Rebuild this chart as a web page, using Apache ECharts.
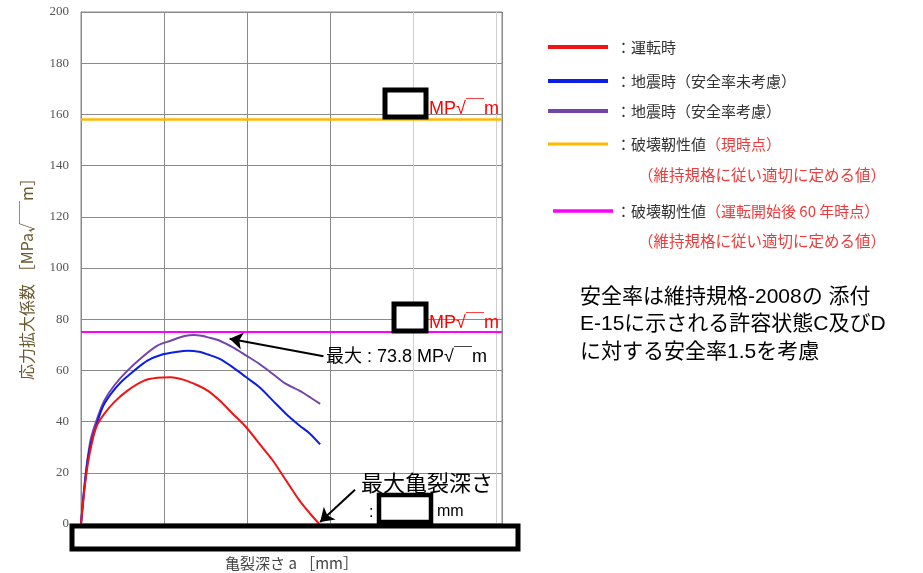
<!DOCTYPE html>
<html>
<head>
<meta charset="utf-8">
<script src="https://cdn.jsdelivr.net/npm/echarts/dist/echarts.min.js"></script>
<style>
html,body{margin:0;padding:0;background:#fff;}
#main{width:923px;height:573px;}
</style>
</head>
<body>
<div id="main"></div>
<script>
// 亀裂深さ a [mm] と 応力拡大係数
var opX = [0, 0.4, 0.8, 1.2, 1.6, 2.0, 2.8, 4.0, 5.6, 7.6, 9.2, 10.8, 12.4, 14.1, 15.3, 16.7, 18.3, 19.9, 21.5, 23.1, 24.7, 26.3, 27.6, 28.7];
var opY = [0, 13, 23, 30, 35.5, 39, 43, 47.6, 52.1, 56, 57.1, 57.3, 56.3, 54.1, 52, 48.2, 43, 37.8, 31.3, 24.8, 17, 9.2, 4, 0];

var eqX = [0, 0.4, 0.8, 1.2, 1.8, 2.6, 3.6, 4.8, 6.4, 8.0, 9.6, 11.3, 12.9, 14.2, 15.3, 16.7, 18.3, 19.9, 21.5, 23.1, 24.7, 26.3, 27.6, 28.8];
var eqY = [0, 14, 25, 31.5, 38, 45.6, 50.8, 55.4, 59.9, 63.8, 66, 67.1, 67.7, 67.3, 66.2, 64.5, 61.2, 57.3, 53.4, 48.2, 43, 38.5, 35.2, 31.1];

var eqSfX = [0, 0.4, 0.8, 1.2, 2.0, 2.8, 4.0, 5.6, 7.6, 9.2, 10.8, 12.5, 13.6, 14.5, 15.3, 16.7, 18.3, 19.9, 21.5, 23.1, 24.7, 26.3, 27.6, 28.8];
var eqSfY = [0, 14.5, 25.5, 33.5, 41.7, 48.2, 54.1, 59.9, 65.8, 69.7, 71.6, 73.4, 73.8, 73.5, 72.9, 71.6, 69, 65.8, 62.5, 58.6, 54.7, 52.1, 49.5, 46.9];

var toughNow = 158;     // 破壊靭性値（現時点）
var tough60 = 75;       // 破壊靭性値（運転開始後60年時点）
var xRange = [0, 50.7];

var seriesNames = ['運転時', '地震時（安全率未考慮）', '地震時（安全率考慮）', '破壊靭性値（現時点）', '破壊靭性値（運転開始後60年時点）'];
var seriesColors = ['#f01414', '#0a1ee6', '#7444ac', '#ffb800', '#ff00ff'];

var legendMain = ['：運転時', '：地震時（安全率未考慮）', '：地震時（安全率考慮）', '：破壊靭性値{r|（現時点）}', '：破壊靭性値{r|（運転開始後 60 年時点）}'];
var legendSub = '（維持規格に従い適切に定める値）';
var noteLines = ['安全率は維持規格-2008の 添付', 'E-15に示される許容状態C及びD', 'に対する安全率1.5を考慮'];
var maxLabel = '最大 : 73.8 MP√￣m';
var unitLabel = 'MP√￣m';

function pairs(xs, ys) {
	var out = [];
	for (var i = 0; i < xs.length; i++) out.push([xs[i], ys[i]]);
	return out;
}

var font = "'Liberation Sans','Noto Sans CJK JP',sans-serif";
var jp = "'Noto Sans CJK JP',sans-serif";

var myChart = echarts.init(document.getElementById('main'));

// 凡例（手書き）
var legendY = [47, 81, 111, 144, 211];
var legendW = [4, 4, 4, 3, 3.5];
var graphics = [];
for (var i = 0; i < legendMain.length; i++) {
	var lx = i == 4 ? 553 : 548;
	graphics.push({
		type: 'line', shape: {x1: lx, y1: legendY[i], x2: lx + 60, y2: legendY[i]},
		style: {stroke: seriesColors[i], lineWidth: legendW[i]}
	});
	graphics.push({
		type: 'text', x: 616, y: legendY[i],
		style: {text: legendMain[i], font: '15px ' + jp, fill: '#333', verticalAlign: 'middle',
			rich: {r: {fill: '#ee3a3a', font: '15px ' + jp}}}
	});
}
graphics.push({type: 'text', x: 638, y: 175, style: {text: legendSub, font: '15.5px ' + jp, fill: '#ee3a3a', verticalAlign: 'middle'}});
graphics.push({type: 'text', x: 638, y: 241, style: {text: legendSub, font: '15.5px ' + jp, fill: '#ee3a3a', verticalAlign: 'middle'}});

// 注記
for (var j = 0; j < noteLines.length; j++) {
	graphics.push({type: 'text', x: 580, y: 297 + j * 27.5,
		style: {text: noteLines[j], font: '21px ' + font, fill: '#000', verticalAlign: 'middle'}});
}

// 黒枠（マスキング）
function box(x, y, w, h, lw) {
	return {type: 'rect', shape: {x: x, y: y, width: w, height: h},
		style: {fill: '#fff', stroke: '#000', lineWidth: lw}, z: 100};
}
graphics.push(box(72, 526, 446, 23, 5));
graphics.push(box(379, 495, 52, 27, 4.5));
graphics.push(box(385, 90, 41, 27, 5));
graphics.push(box(394, 304, 32, 27, 5));

graphics.push({type: 'text', x: 429, y: 109, z: 100, style: {text: unitLabel, font: '18px ' + font, fill: '#ff0000', verticalAlign: 'middle'}});
graphics.push({type: 'text', x: 429, y: 323, z: 100, style: {text: unitLabel, font: '18px ' + font, fill: '#ff0000', verticalAlign: 'middle'}});
graphics.push({type: 'text', x: 326, y: 357, z: 100, style: {text: maxLabel, font: '18px ' + font, fill: '#000', verticalAlign: 'middle'}});
graphics.push({type: 'text', x: 361, y: 485, z: 100, style: {text: '最大亀裂深さ', font: '22px ' + font, fill: '#000', verticalAlign: 'middle'}});
graphics.push({type: 'text', x: 369, y: 513, z: 100, style: {text: ':', font: '16px ' + font, fill: '#000', verticalAlign: 'middle'}});
graphics.push({type: 'text', x: 437, y: 512, z: 100, style: {text: 'mm', font: '16px ' + font, fill: '#000', verticalAlign: 'middle'}});

var lineColors = ['#8a8a8a', '#8a8a8a', '#8a8a8a', '#8a8a8a', '#cfcfcf', '#cfcfcf', '#8a8a8a'];

option = {
	animation: false,
	backgroundColor: '#fff',
	textStyle: {fontFamily: font},
	grid: {
		left: 81, right: 421, top: 12, bottom: 49,
		show: true, borderColor: '#8a8a8a', borderWidth: 1,
		containLabel: false, outerBoundsMode: 'none'
	},
	legend: {show: false},
	xAxis: {
		type: 'value', min: xRange[0], max: xRange[1], interval: 10,
		name: '亀裂深さ a ［mm］', nameLocation: 'middle', nameGap: 32,
		nameTextStyle: {fontSize: 15, color: '#444', fontFamily: jp},
		axisLine: {show: true, lineStyle: {color: '#8a8a8a'}},
		axisTick: {show: false},
		axisLabel: {show: false},
		splitLine: {show: true, lineStyle: {color: lineColors, width: 1}}
	},
	yAxis: {
		type: 'value', min: 0, max: 200, interval: 20,
		name: '応力拡大係数 ［MPa√￣m］', nameLocation: 'middle', nameGap: 46, nameRotate: 90,
		nameTextStyle: {fontSize: 16, color: '#6b5a30', fontFamily: jp, padding: [0, 14, 0, 0]},
		axisLine: {show: true, lineStyle: {color: '#8a8a8a'}},
		axisTick: {show: false},
		axisLabel: {fontSize: 13, color: '#555', margin: 12, fontFamily: "'Liberation Serif','DejaVu Serif',serif"},
		splitLine: {show: true, lineStyle: {color: '#8a8a8a', width: 1}}
	},
	series: [
		{
			name: seriesNames[0], type: 'line', data: pairs(opX, opY), smooth: 0.3,
			showSymbol: false, lineStyle: {color: seriesColors[0], width: 2}, z: 5,
			markLine: {
				silent: true, symbol: ['none', 'arrow'], symbolSize: 13,
				lineStyle: {color: '#000', width: 2, type: 'solid'}, label: {show: false},
				data: [[{coord: [33.0, 13.4]}, {coord: [28.8, 0.8]}]]
			}
		},
		{
			name: seriesNames[1], type: 'line', data: pairs(eqX, eqY), smooth: 0.3,
			showSymbol: false, lineStyle: {color: seriesColors[1], width: 2}, z: 4
		},
		{
			name: seriesNames[2], type: 'line', data: pairs(eqSfX, eqSfY), smooth: 0.3,
			showSymbol: false, lineStyle: {color: seriesColors[2], width: 2}, z: 3,
			markLine: {
				silent: true, symbol: ['none', 'arrow'], symbolSize: 13,
				lineStyle: {color: '#000', width: 2, type: 'solid'}, label: {show: false},
				data: [[{coord: [29.2, 65.5]}, {coord: [17.9, 72.4]}]]
			}
		},
		{
			name: seriesNames[3], type: 'line', data: [[xRange[0], toughNow], [xRange[1], toughNow]],
			showSymbol: false, lineStyle: {color: seriesColors[3], width: 2.5}, z: 2
		},
		{
			name: seriesNames[4], type: 'line', data: [[xRange[0], tough60], [xRange[1], tough60]],
			showSymbol: false, lineStyle: {color: seriesColors[4], width: 2}, z: 2
		}
	],
	graphic: graphics
};

myChart.setOption(option, true);
</script>
</body>
</html>
